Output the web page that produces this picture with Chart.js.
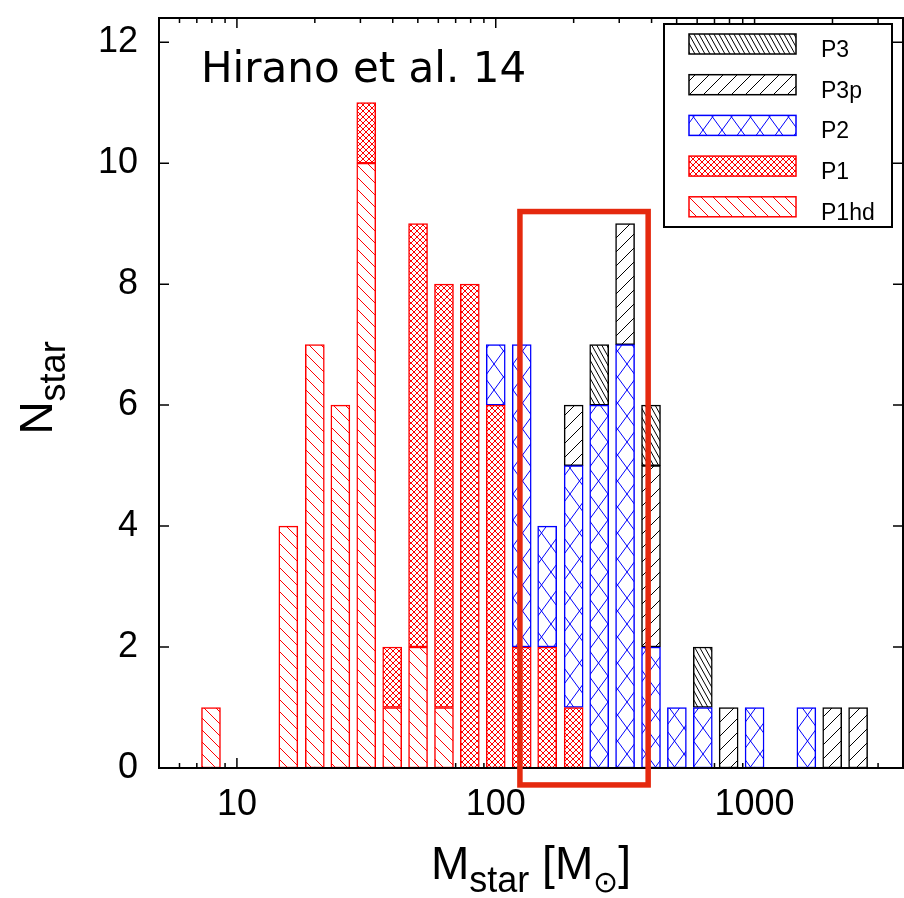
<!DOCTYPE html>
<html>
<head>
<meta charset="utf-8">
<script src="https://cdn.jsdelivr.net/npm/chart.js@4.4.1/dist/chart.umd.min.js"></script>
<style>
  html, body { margin: 0; padding: 0; background: #fff; }
  #wrap { width: 904px; height: 898px; }
</style>
</head>
<body>
<div id="wrap"><canvas id="massChart" width="904" height="898"></canvas></div>
<script>
// bin centres in Msun (0.1 dex bins)
const binMass = [7.94, 10.0, 12.6, 15.8, 20.0, 25.1, 31.6, 39.8, 50.1, 63.1, 79.4, 100, 126, 158, 200, 251, 316, 398, 501, 631, 794, 1000, 1259, 1585, 1995, 2512];

// number of stars per bin for each run type
const nP1hd = [1, 0, 0, 4, 7, 6, 10, 1, 2, 1, 0, 0, 0, 0, 0, 0, 0, 0, 0, 0, 0, 0, 0, 0, 0, 0];
const nP1   = [0, 0, 0, 0, 0, 0, 1, 1, 7, 7, 8, 6, 2, 2, 1, 0, 0, 0, 0, 0, 0, 0, 0, 0, 0, 0];
const nP2   = [0, 0, 0, 0, 0, 0, 0, 0, 0, 0, 0, 1, 5, 2, 4, 6, 7, 2, 1, 1, 0, 1, 0, 1, 0, 0];
const nP3p  = [0, 0, 0, 0, 0, 0, 0, 0, 0, 0, 0, 0, 0, 0, 1, 0, 2, 3, 0, 0, 1, 0, 0, 0, 1, 1];
const nP3   = [0, 0, 0, 0, 0, 0, 0, 0, 0, 0, 0, 0, 0, 0, 0, 1, 0, 1, 0, 1, 0, 0, 0, 0, 0, 0];

const yTicks = [0, 2, 4, 6, 8, 10, 12];
const xMajor = [10, 100, 1000];
const xMinor = [6, 7, 8, 9, 20, 30, 40, 50, 60, 70, 80, 90, 200, 300, 400, 500, 600, 700, 800, 900, 2000, 3000];

// highlighted region (red box)
const boxMass = [124, 388];
const boxN = [-0.28, 9.2];

// hatch patterns
function hatch(color, w, h, draw) {
    const c = document.createElement('canvas');
    c.width = w; c.height = h;
    const g = c.getContext('2d');
    g.fillStyle = '#ffffff';
    g.fillRect(0, 0, w, h);
    g.strokeStyle = color;
    g.lineWidth = 1;
    draw(g, w, h);
    return g.createPattern(c, 'repeat');
}
function back(g, w, h) {
    g.beginPath();
    for (const dx of [-w, 0, w]) { g.moveTo(dx, 0); g.lineTo(dx + w, h); }
    g.stroke();
}
function fwd(g, w, h) {
    g.beginPath();
    for (const dx of [-w, 0, w]) { g.moveTo(dx, h); g.lineTo(dx + w, 0); }
    g.stroke();
}
function cross(g, w, h) { back(g, w, h); fwd(g, w, h); }

// bottom of the stack first
const series = [
    { label: 'P1hd', counts: nP1hd, color: '#ff0000', fill: hatch('#ff0000', 12, 12, back) },
    { label: 'P1',   counts: nP1,   color: '#ff0000', fill: hatch('#ff0000', 6, 6, cross) },
    { label: 'P2',   counts: nP2,   color: '#0000ff', fill: hatch('#0000ff', 19, 26, cross) },
    { label: 'P3p',  counts: nP3p,  color: '#000000', fill: hatch('#000000', 14, 14, fwd) },
    { label: 'P3',   counts: nP3,   color: '#000000', fill: hatch('#000000', 5, 9, back) }
];

const FONT = "'Liberation Sans', Arial, sans-serif";

const overlay = {
    id: 'overlay',
    beforeDatasetsDraw(chart) {
        const { ctx, chartArea: a, scales: { x, y } } = chart;
        ctx.save();
        ctx.strokeStyle = '#000';
        ctx.lineWidth = 1.5;
        ctx.beginPath();
        x.ticks.forEach(t => {
            const px = x.getPixelForValue(t.value);
            const len = xMajor.includes(t.value) ? 10 : 5;
            ctx.moveTo(px, a.bottom); ctx.lineTo(px, a.bottom - len);
            ctx.moveTo(px, a.top); ctx.lineTo(px, a.top + len);
        });
        y.ticks.forEach(t => {
            const py = y.getPixelForValue(t.value);
            ctx.moveTo(a.left, py); ctx.lineTo(a.left + 10, py);
            ctx.moveTo(a.right, py); ctx.lineTo(a.right - 10, py);
        });
        ctx.stroke();
        ctx.restore();
    },
    afterDraw(chart) {
        const { ctx, chartArea: a, scales: { x, y } } = chart;
        ctx.save();

        // frame
        ctx.strokeStyle = '#000';
        ctx.lineWidth = 2;
        ctx.strokeRect(a.left, a.top, a.right - a.left, a.bottom - a.top);

        // red box
        const bx0 = x.getPixelForValue(boxMass[0]), bx1 = x.getPixelForValue(boxMass[1]);
        const by0 = y.getPixelForValue(boxN[1]), by1 = y.getPixelForValue(boxN[0]);
        ctx.strokeStyle = '#e5290e';
        ctx.lineWidth = 5.5;
        ctx.strokeRect(bx0, by0, bx1 - bx0, by1 - by0);

        // label in the corner
        ctx.fillStyle = '#000';
        ctx.textBaseline = 'alphabetic';
        ctx.textAlign = 'left';
        ctx.font = "42px 'DejaVu Sans', sans-serif";
        ctx.fillText('Hirano et al. 14', 201, 82);

        // legend
        ctx.lineWidth = 2;
        ctx.strokeStyle = '#000';
        ctx.fillStyle = '#fff';
        ctx.fillRect(664, 24, 228, 203);
        ctx.strokeRect(664, 24, 228, 203);
        const items = chart.data.datasets.slice().reverse();
        items.forEach((ds, i) => {
            const top = 34 + i * 40.7;
            ctx.fillStyle = ds.backgroundColor;
            ctx.fillRect(689, top, 107, 20);
            ctx.strokeStyle = ds.borderColor;
            ctx.lineWidth = 1.5;
            ctx.strokeRect(689, top, 107, 20);
            ctx.fillStyle = '#000';
            ctx.font = '23px ' + FONT;
            ctx.fillText(ds.label, 821, top + 23);
        });

        // x axis title: M_star [M_sun]
        const xParts = [
            { t: 'M', s: 46, dy: 0 },
            { t: 'star', s: 36, dy: 13 },
            { t: ' [M', s: 46, dy: 0 },
            { t: '\u2299', s: 30, dy: 13 },
            { t: ']', s: 46, dy: 0 }
        ];
        let w = 0;
        xParts.forEach(p => { ctx.font = p.s + 'px ' + FONT; p.w = ctx.measureText(p.t).width; w += p.w; });
        let cx = (a.left + a.right) / 2 - w / 2;
        const base = 879;
        xParts.forEach(p => {
            ctx.font = p.s + 'px ' + FONT;
            ctx.fillText(p.t, cx, base + p.dy);
            cx += p.w;
        });

        // y axis title: N_star
        const yParts = [
            { t: 'N', s: 46, dy: 0 },
            { t: 'star', s: 36, dy: 13 }
        ];
        w = 0;
        yParts.forEach(p => { ctx.font = p.s + 'px ' + FONT; p.w = ctx.measureText(p.t).width; w += p.w; });
        ctx.translate(52, 388);
        ctx.rotate(-Math.PI / 2);
        cx = -w / 2;
        yParts.forEach(p => {
            ctx.font = p.s + 'px ' + FONT;
            ctx.fillText(p.t, cx, p.dy);
            cx += p.w;
        });
        ctx.restore();
    }
};

function noEdgePadding(scale) {
    scale.paddingTop = 0;
    scale.paddingBottom = 0;
    scale.paddingLeft = 0;
    scale.paddingRight = 0;
}

const ctx = document.getElementById('massChart').getContext('2d');
new Chart(ctx, {
    type: 'bar',
    data: {
        datasets: series.map(s => ({
            label: s.label,
            data: binMass.map((m, i) => ({ x: m, y: s.counts[i] })).filter(p => p.y > 0),
            backgroundColor: s.fill,
            borderColor: s.color,
            borderWidth: 1.5,
            borderSkipped: false,
            barThickness: 19
        }))
    },
    options: {
        responsive: false,
        animation: false,
        layout: { padding: { top: 18, right: 1, left: 0, bottom: 0 } },
        plugins: {
            legend: { display: false },
            tooltip: { enabled: false }
        },
        scales: {
            x: {
                type: 'logarithmic',
                min: 5,
                max: 3745,
                stacked: true,
                grid: { display: false, drawTicks: false },
                border: { display: false },
                afterBuildTicks: scale => {
                    scale.ticks = xMajor.concat(xMinor).sort((p, q) => p - q).map(v => ({ value: v }));
                },
                ticks: {
                    autoSkip: false,
                    maxRotation: 0,
                    padding: 15,
                    color: '#000',
                    font: { family: FONT, size: 36 },
                    callback: v => xMajor.includes(v) ? String(v) : ''
                },
                afterFit: scale => { scale.height = 130; noEdgePadding(scale); }
            },
            y: {
                min: 0,
                max: 12.4,
                stacked: true,
                grid: { display: false, drawTicks: false },
                border: { display: false },
                afterBuildTicks: scale => {
                    scale.ticks = yTicks.map(v => ({ value: v }));
                },
                ticks: {
                    padding: 21,
                    color: '#000',
                    font: { family: FONT, size: 36 }
                },
                afterFit: scale => { scale.width = 159; noEdgePadding(scale); }
            }
        }
    },
    plugins: [overlay]
});
</script>
</body>
</html>
